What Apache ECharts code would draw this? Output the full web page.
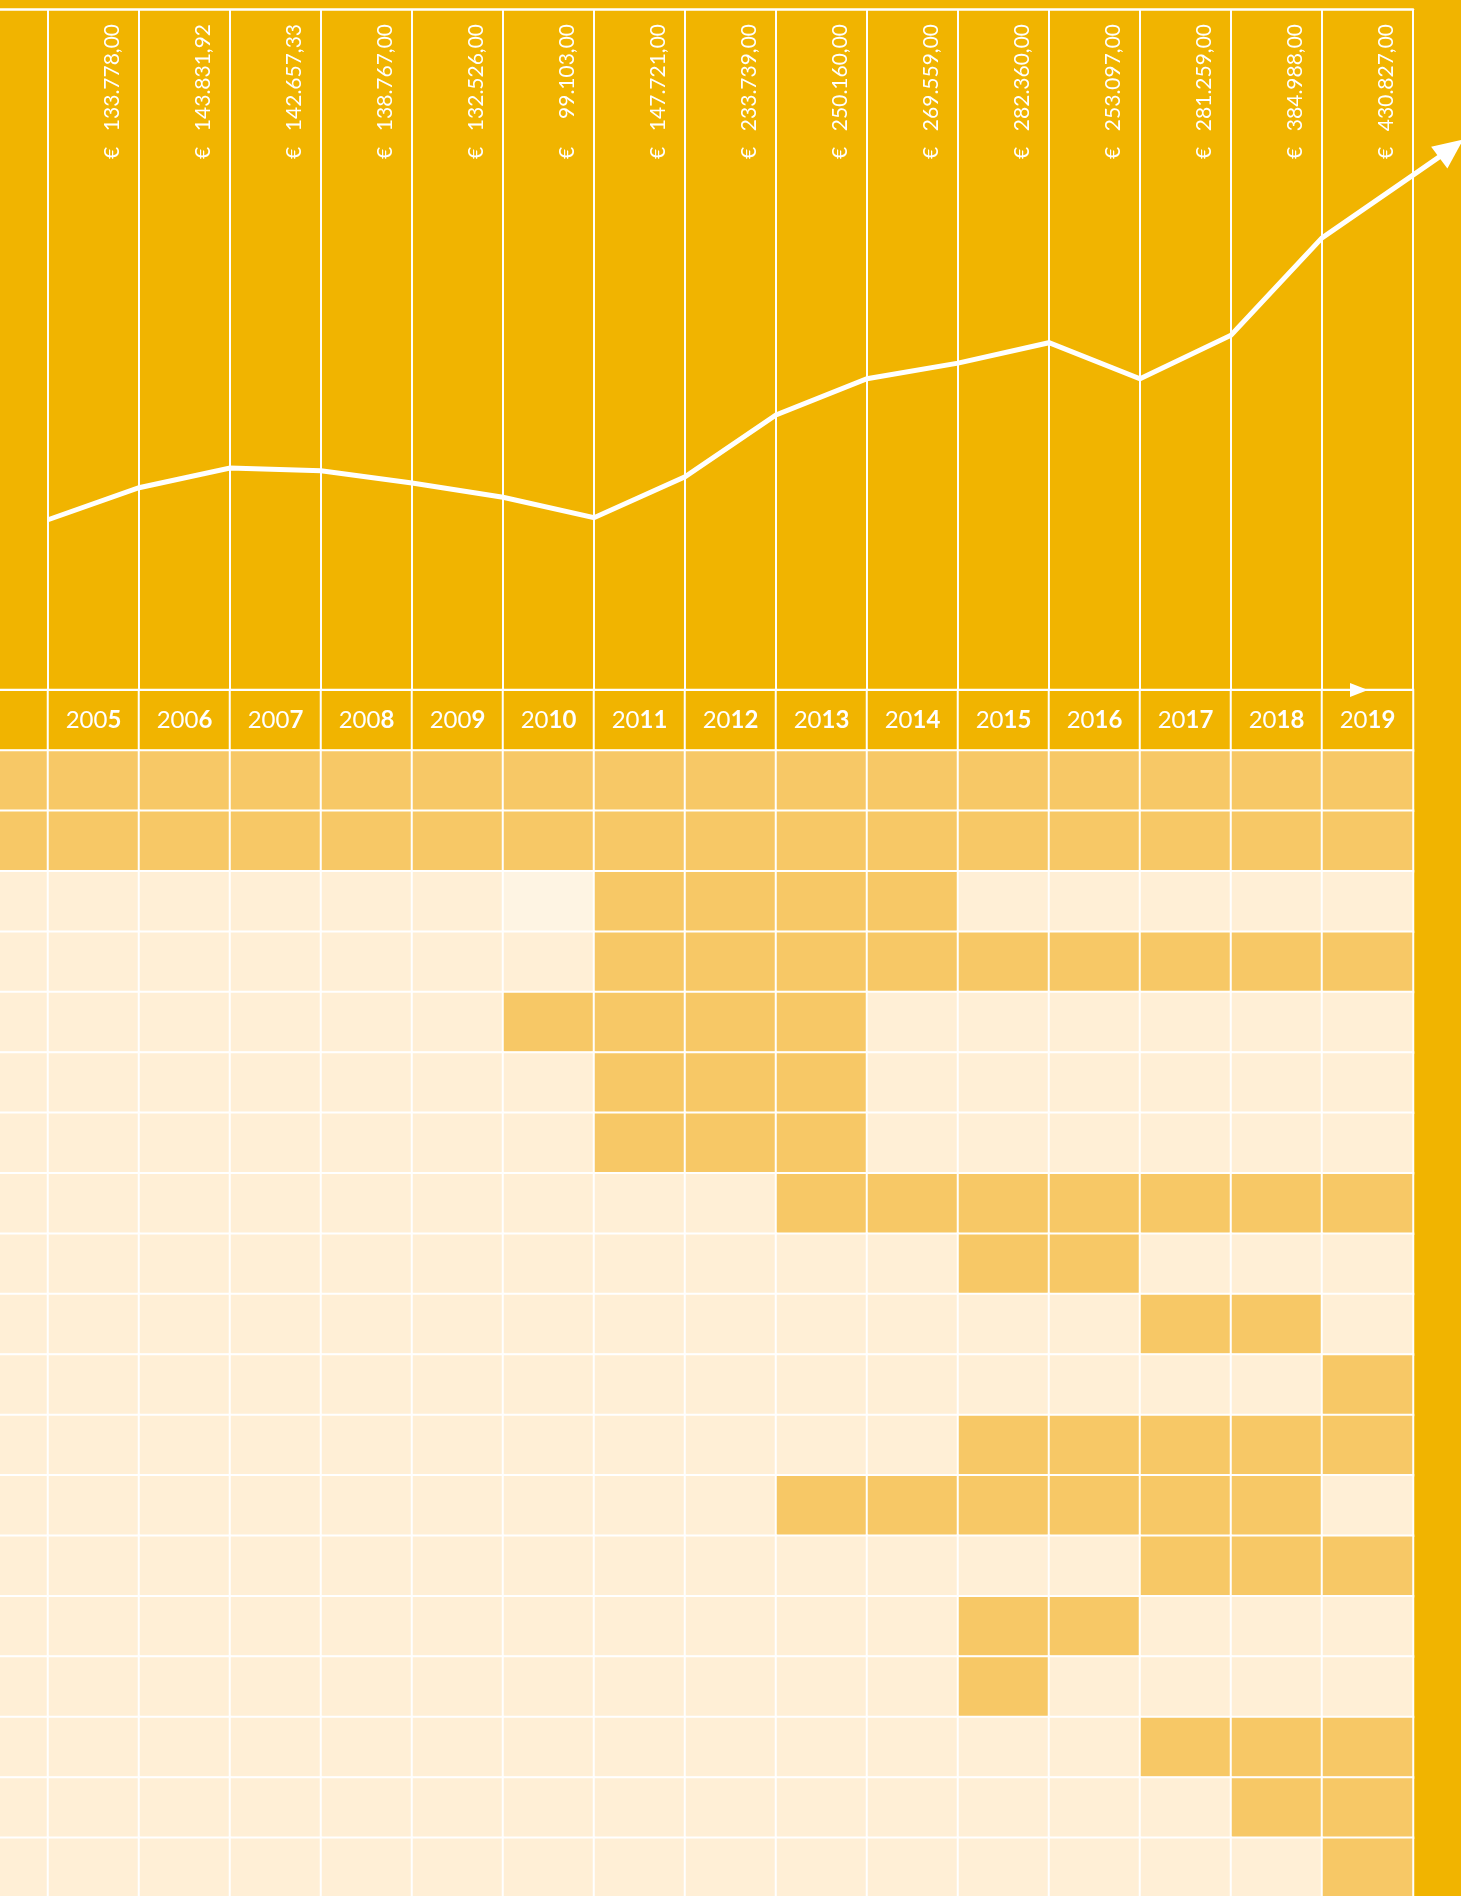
<!DOCTYPE html>
<html>
<head>
<meta charset="utf-8">
<script src="https://cdn.jsdelivr.net/npm/echarts@6/dist/echarts.min.js"></script>
<style>
  html, body { margin: 0; padding: 0; background: #F1B400; }
  #chart { width: 1461px; height: 1896px; }
</style>
</head>
<body>
<div id="chart"></div>
<script>
// ---- data ----
const years = ['2005','2006','2007','2008','2009','2010','2011','2012','2013','2014','2015','2016','2017','2018','2019'];
const amounts = [133778.00, 143831.92, 142657.33, 138767.00, 132526.00, 99103.00, 147721.00, 233739.00, 250160.00, 269559.00, 282360.00, 253097.00, 281259.00, 384988.00, 430827.00];
// trend line (index 0-100), points on the year boundaries
const lineYears = [2004, 2005, 2006, 2007, 2008, 2009, 2010, 2011, 2012, 2013, 2014, 2015, 2016, 2017, 2018, 2019];
const lineValues = [25.0, 29.7, 32.6, 32.2, 30.4, 28.3, 25.3, 31.3, 40.4, 45.7, 48.0, 51.0, 45.7, 52.1, 66.4, 75.6];
const arrowPoint = [2019.42, 79.5];
// matrix rows: first column is the (cropped) label column, then 2005..2019
// 0 = light, 1 = dark, 2 = pale
const rowLevels = [
  [1,1,1,1,1,1,1,1,1,1,1,1,1,1,1,1],
  [1,1,1,1,1,1,1,1,1,1,1,1,1,1,1,1],
  [0,0,0,0,0,0,2,1,1,1,1,0,0,0,0,0],
  [0,0,0,0,0,0,0,1,1,1,1,1,1,1,1,1],
  [0,0,0,0,0,0,1,1,1,1,0,0,0,0,0,0],
  [0,0,0,0,0,0,0,1,1,1,0,0,0,0,0,0],
  [0,0,0,0,0,0,0,1,1,1,0,0,0,0,0,0],
  [0,0,0,0,0,0,0,0,0,1,1,1,1,1,1,1],
  [0,0,0,0,0,0,0,0,0,0,0,1,1,0,0,0],
  [0,0,0,0,0,0,0,0,0,0,0,0,0,1,1,0],
  [0,0,0,0,0,0,0,0,0,0,0,0,0,0,0,1],
  [0,0,0,0,0,0,0,0,0,0,0,1,1,1,1,1],
  [0,0,0,0,0,0,0,0,0,1,1,1,1,1,1,0],
  [0,0,0,0,0,0,0,0,0,0,0,0,0,1,1,1],
  [0,0,0,0,0,0,0,0,0,0,0,1,1,0,0,0],
  [0,0,0,0,0,0,0,0,0,0,0,1,0,0,0,0],
  [0,0,0,0,0,0,0,0,0,0,0,0,0,1,1,1],
  [0,0,0,0,0,0,0,0,0,0,0,0,0,0,1,1],
  [0,0,0,0,0,0,0,0,0,0,0,0,0,0,0,1]
];

// ---- build ----
const ORANGE = '#F1B400', DARK = '#F7C866', LIGHT = '#FFEFD6', PALE = '#FEF4E3', WHITE = '#FFFFFF';
const colCats = [''].concat(years);
const rowCats = ['header'].concat(rowLevels.map((r, i) => 'r' + (i + 1)));

function fmtEuro(v) {
  const parts = v.toFixed(2).split('.');
  const intPart = parts[0].replace(/\B(?=(\d{3})+(?!\d))/g, '.');
  return intPart + ',' + parts[1];
}
function yearRich(y) {
  if (!y) return '';
  const n = parseInt(y, 10);
  const k = n < 2010 ? 1 : 2;
  return '{r|' + y.slice(0, 4 - k) + '}{b|' + y.slice(4 - k) + '}';
}

const heatData = [];
colCats.forEach((c, xi) => heatData.push([xi, 0, 3]));
rowLevels.forEach((row, ri) => row.forEach((lv, xi) => heatData.push([xi, ri + 1, lv])));

const lineData = lineYears.map((y, i) => [y, lineValues[i]]);
lineData.push({ value: arrowPoint, symbol: 'triangle', symbolSize: [27, 30], symbolRotate: -53 });

const labelData = years.map((y, i) => [y, amounts[i]]);

const COL_W = 1456 / 16;
const chart = echarts.init(document.getElementById('chart'), null, { renderer: 'canvas' });
chart.setOption({
  backgroundColor: ORANGE,
  animation: false,
  grid: [
    { left: -43, top: 9, width: 1456, height: 681, containLabel: false, outerBoundsMode: 'none' },
    { left: -43, top: 690, width: 1456, height: 1208.2, containLabel: false, outerBoundsMode: 'none' },
    { left: -43, top: 9, width: 1456 + COL_W * 0.5, height: 681, containLabel: false, outerBoundsMode: 'none' }
  ],
  xAxis: [
    { gridIndex: 0, type: 'category', data: colCats, position: 'top', boundaryGap: true,
      axisLine: { show: true, onZero: false, lineStyle: { color: WHITE, width: 2.5 } },
      axisTick: { show: false, interval: 0 }, axisLabel: { show: false, interval: 0 },
      splitLine: { show: true, interval: 0, lineStyle: { color: WHITE, width: 2 } } },
    { gridIndex: 0, type: 'value', min: 2003, max: 2019, position: 'bottom', z: 10,
      axisLine: { show: true, onZero: false, symbol: ['none', 'triangle'], symbolSize: [14, 18], symbolOffset: [0, -54],
        lineStyle: { color: WHITE, width: 2 } },
      axisTick: { show: false }, axisLabel: { show: false }, splitLine: { show: false } },
    { gridIndex: 1, type: 'category', data: colCats, show: false },
    { gridIndex: 2, type: 'value', min: 2003, max: 2019.5, show: false }
  ],
  yAxis: [
    { gridIndex: 0, type: 'value', min: 0, max: 100, show: false, splitLine: { show: false } },
    { gridIndex: 1, type: 'category', data: rowCats, inverse: true, show: false },
    { gridIndex: 2, type: 'value', min: 0, max: 100, show: false }
  ],
  visualMap: {
    type: 'piecewise', show: false, seriesIndex: 0, dimension: 2,
    pieces: [
      { value: 0, color: LIGHT },
      { value: 1, color: DARK },
      { value: 2, color: PALE },
      { value: 3, color: ORANGE }
    ]
  },
  series: [
    { type: 'heatmap', xAxisIndex: 2, yAxisIndex: 1, data: heatData,
      itemStyle: { borderColor: WHITE, borderWidth: 2 },
      emphasis: { disabled: true },
      label: {
        show: true,
        formatter: p => (p.value[2] === 3 ? yearRich(colCats[p.value[0]]) : ''),
        rich: {
          r: { color: WHITE, fontFamily: 'Lato', fontSize: 24, fontWeight: 'normal' },
          b: { color: WHITE, fontFamily: 'Lato', fontSize: 24, fontWeight: 'bold' }
        }
      }
    },
    { type: 'line', xAxisIndex: 3, yAxisIndex: 2, data: lineData, clip: false,
      symbol: 'none', showSymbol: true, z: 5,
      itemStyle: { color: WHITE },
      lineStyle: { color: WHITE, width: 5, join: 'miter' },
      emphasis: { disabled: true }
    },
    { type: 'custom', xAxisIndex: 0, yAxisIndex: 0, data: labelData, encode: { x: 0, y: 1 }, z: 6, clip: false,
      renderItem: function (params, api) {
        const c = api.coord([api.value(0), 0]);
        const top = params.coordSys.y;
        const x = c[0] + 19;
        const font = '21px Lato';
        return {
          type: 'group',
          children: [
            { type: 'text', x: x, y: top + 15, rotation: Math.PI / 2,
              style: { text: fmtEuro(api.value(1)), fill: WHITE, font: font, align: 'right', verticalAlign: 'middle' } },
            { type: 'text', x: x, y: top + 150, rotation: Math.PI / 2,
              style: { text: '€', fill: WHITE, font: font, align: 'left', verticalAlign: 'middle' } }
          ]
        };
      }
    }
  ]
});
</script>
</body>
</html>
